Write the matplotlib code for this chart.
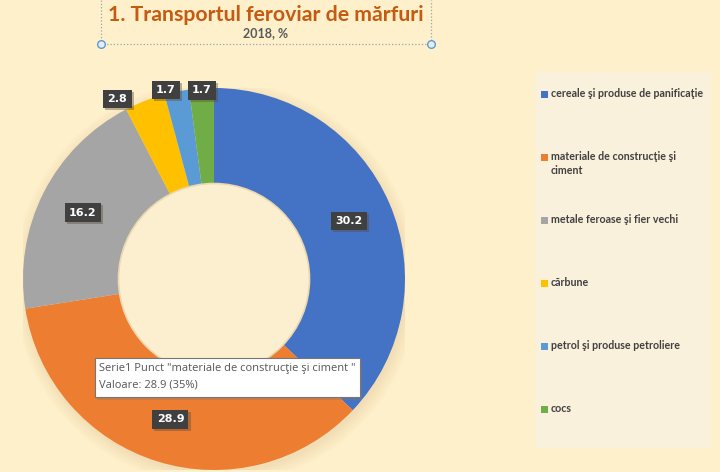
import numpy as np
import matplotlib.pyplot as plt
import matplotlib.patheffects as pe
from matplotlib.patches import Circle, Rectangle
from matplotlib.lines import Line2D

categories = ["cereale şi produse de panificaţie",
              "materiale de construcţie şi ciment",
              "metale feroase şi fier vechi",
              "cărbune",
              "petrol şi produse petroliere",
              "cocs"]
legend_labels = ["cereale şi produse de panificaţie",
                 "materiale de construcţie şi\nciment",
                 "metale feroase şi fier vechi",
                 "cărbune",
                 "petrol şi produse petroliere",
                 "cocs"]
values = [30.2, 28.9, 16.2, 2.8, 1.7, 1.7]
colors = ["#4472C4", "#ED7D31", "#A5A5A5", "#FFC000", "#5B9BD5", "#70AD47"]

title = "1. Transportul feroviar de mărfuri"
subtitle = "2018, %"

W, H = 720, 472
fig = plt.figure(figsize=(7.2, 4.72), dpi=100)
fig.patch.set_facecolor("#FEF0CB")


def fx(x):
    return x / W


def fy(y):
    return 1 - y / H


# legend panel
fig.add_artist(Rectangle((fx(535), fy(448)), fx(711) - fx(535), fy(72) - fy(448),
                         transform=fig.transFigure, facecolor="#FAF1DD",
                         edgecolor="none", zorder=0))

# donut
cx, cy, r = 214, 279, 191
ax = fig.add_axes([fx(cx - r), fy(cy + r), 2 * r / W, 2 * r / H])
ax.axis("off")

for k in range(6):
    ax.add_patch(Circle((0.01, -0.02), 1.0 + 0.012 * k, facecolor="#C9A66B",
                        alpha=0.035, edgecolor="none", zorder=0))

ax.pie(values, colors=colors, startangle=90, counterclock=False, radius=1,
       wedgeprops=dict(width=0.5, edgecolor="none"))
ax.set_xlim(-1, 1)
ax.set_ylim(-1, 1)

ax.add_patch(Circle((0, 0), 0.5, facecolor="#FCEFD0", edgecolor="#E9D8B0",
                    linewidth=1.2, zorder=3))

# data labels
total = sum(values)
nudge = [0, 0, 0, -7, -3, 0]
label_r = [0.77, 0.77, 0.77, 1.07, 1.02, 0.99]
shadow = [pe.withSimplePatchShadow(offset=(1.5, -1.5), shadow_rgbFace="#5a4a30", alpha=0.4)]
start = 0.0
for v, n, rad in zip(values, nudge, label_r):
    span = v / total * 360
    mid = np.radians(start + span / 2 + n)
    x, y = rad * np.sin(mid), rad * np.cos(mid)
    t = ax.text(x, y, f"{v:.1f}", ha="center", va="center", color="white",
                fontsize=8, fontweight="bold", zorder=5,
                bbox=dict(boxstyle="square,pad=0.38", fc="#404040", ec="none"))
    t.get_bbox_patch().set_path_effects(shadow)
    start += span

# title + selection frame
fig.text(fx(266), fy(15), title, ha="center", va="center", fontsize=15.3,
         fontweight="bold", color="#C55A11", family="Lato")
fig.text(fx(266), fy(33), subtitle, ha="center", va="center", fontsize=9,
         fontweight="bold", color="#595959", family="Lato")
fig.add_artist(Line2D([fx(101), fx(101), fx(431), fx(431)], [1, fy(44), fy(44), 1],
                      transform=fig.transFigure, linestyle=":", color="#9AA3AE",
                      linewidth=0.9))
fig.add_artist(Line2D([fx(101), fx(431)], [fy(44), fy(44)], transform=fig.transFigure,
                      linestyle="none", marker="o", markersize=5.5,
                      markerfacecolor="#E6EEF8", markeredgecolor="#5B9BD5"))

# legend
for i, (lab, c) in enumerate(zip(legend_labels, colors)):
    yy = 94 + i * 63
    fig.add_artist(Rectangle((fx(541), fy(yy + 3.5)), 7 / W, 7 / H,
                             transform=fig.transFigure, facecolor=c, edgecolor="none"))
    fig.text(fx(551), fy(yy - 6), lab, ha="left", va="top", fontsize=7.7,
             fontweight="bold", color="#404040", family="Lato", linespacing=1.35)

# tooltip
fig.add_artist(Rectangle((fx(97), fy(400)), 265 / W, 39 / H, transform=fig.transFigure,
                         facecolor="#8a7a60", edgecolor="none", alpha=0.35))
fig.add_artist(Rectangle((fx(95), fy(397)), 265 / W, 39 / H, transform=fig.transFigure,
                         facecolor="white", edgecolor="#767676", linewidth=0.8))
pct = values[1] / total * 100
fig.text(fx(99), fy(368), f'Serie1 Punct "{categories[1]} "', ha="left", va="center",
         fontsize=8, color="#555555", family="Open Sans")
fig.text(fx(99), fy(385), f"Valoare: {values[1]} ({pct:.0f}%)", ha="left", va="center",
         fontsize=8, color="#555555", family="Open Sans")

fig.savefig("out.png", dpi=100, facecolor=fig.get_facecolor())
